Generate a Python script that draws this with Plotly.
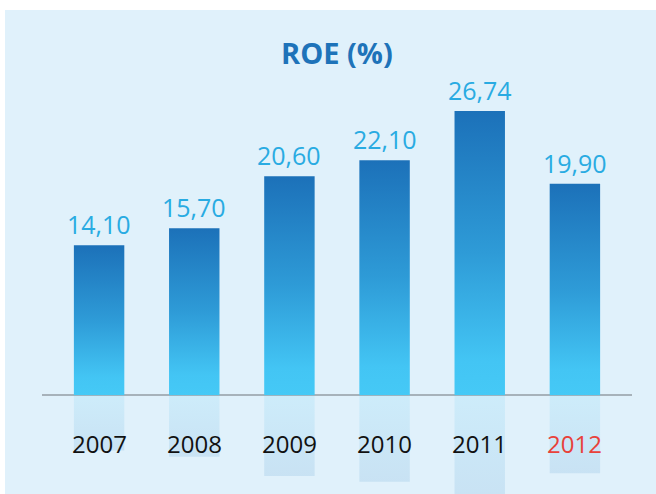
import plotly.graph_objects as go

years = ["2007", "2008", "2009", "2010", "2011", "2012"]
roe = [14.10, 15.70, 20.60, 22.10, 26.74, 19.90]
year_colors = ["#111111", "#111111", "#111111", "#111111", "#111111", "#e8413a"]
title_text = "ROE (%)"

W, H = 656, 494
ML, MR = 42, 24
half_w = 0.265          # half bar width in category units
refl_ratio = 0.37       # reflection depth relative to bar
y_min, y_max = -9.32, 37.19

bar_scale = [[0.0, "#45c9f6"], [0.12, "#43c5f4"], [0.5, "#2e9bd7"], [1.0, "#1c71b9"]]
refl_scale = [[0.0, "rgba(27,117,188,0.12)"], [1.0, "rgba(69,200,245,0.12)"]]

fig = go.Figure()
xs = list(range(len(years)))
for i, v in zip(xs, roe):
    fig.add_trace(go.Scatter(
        x=[i - half_w, i + half_w, i + half_w, i - half_w, i - half_w],
        y=[0, 0, v, v, 0],
        mode="lines", line=dict(width=0, color="rgba(0,0,0,0)"),
        fill="toself",
        fillgradient=dict(type="vertical", colorscale=bar_scale),
        hoverinfo="skip", showlegend=False,
    ))
    r = -v * refl_ratio
    fig.add_trace(go.Scatter(
        x=[i - half_w, i + half_w, i + half_w, i - half_w, i - half_w],
        y=[0, 0, r, r, 0],
        mode="lines", line=dict(width=0, color="rgba(0,0,0,0)"),
        fill="toself",
        fillgradient=dict(type="vertical", colorscale=refl_scale),
        hoverinfo="skip", showlegend=False,
    ))

annotations = []
for i, v in zip(xs, roe):
    annotations.append(dict(
        x=i, y=v, xref="x", yref="y", text=f"{v:.2f}".replace(".", ","),
        showarrow=False, yanchor="middle", yshift=21,
        font=dict(family="Open Sans", size=25, color="#29abe2"),
    ))
for i, (yr, c) in enumerate(zip(years, year_colors)):
    annotations.append(dict(
        x=i, y=0, xref="x", yref="y", text=yr,
        showarrow=False, yanchor="middle", yshift=-48,
        font=dict(family="Open Sans", size=24, color=c),
    ))
annotations.append(dict(
    x=0.5, y=1 - 52 / H, xref="paper", yref="paper", text=f"<b>{title_text}</b>",
    showarrow=False, xanchor="center", yanchor="middle",
    font=dict(family="Open Sans", size=29, color="#1e73b9"),
))

fig.update_layout(
    width=W, height=H,
    margin=dict(l=ML, r=MR, t=0, b=0),
    paper_bgcolor="white",
    plot_bgcolor="rgba(0,0,0,0)",
    xaxis=dict(range=[-0.6, len(years) - 0.4], visible=False, fixedrange=True),
    yaxis=dict(range=[y_min, y_max], showgrid=False, showticklabels=False,
               zeroline=True, zerolinecolor="#a7b2ba", zerolinewidth=2,
               layer="above traces", fixedrange=True),
    shapes=[dict(type="rect", xref="paper", yref="paper",
                 x0=(5 - ML) / (W - ML - MR), x1=1 + MR / (W - ML - MR) + 0.01,
                 y0=-0.01, y1=1 - 10 / H,
                 fillcolor="#e0f1fb", line=dict(width=0), layer="below")],
    annotations=annotations,
    showlegend=False,
)

fig.write_html("out.html", config={"displayModeBar": False},
               post_script="document.body.style.margin='0px';document.body.style.overflow='hidden';")
